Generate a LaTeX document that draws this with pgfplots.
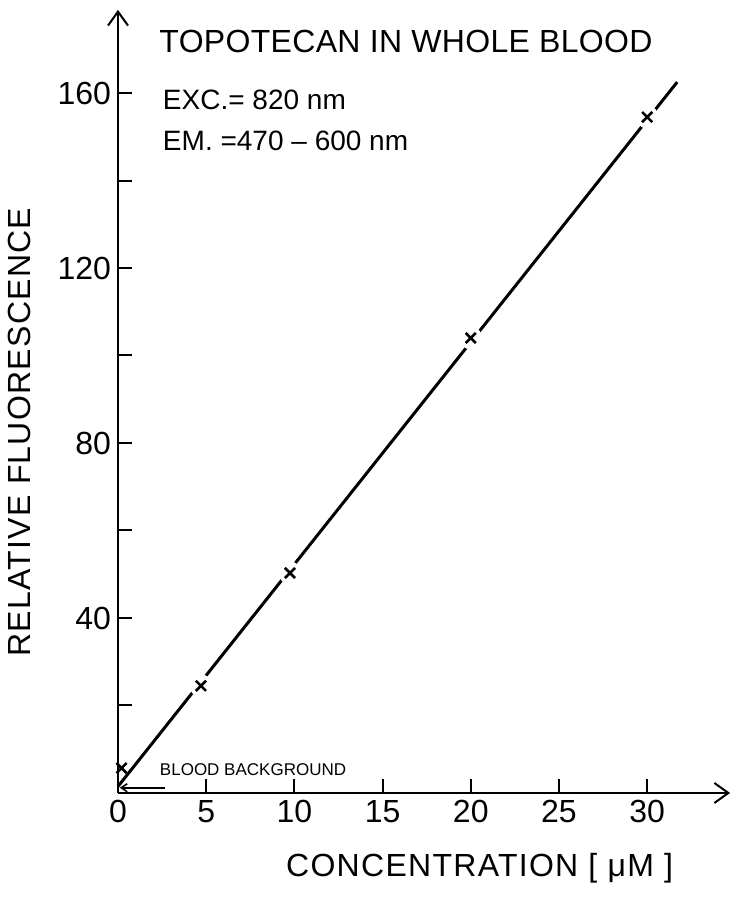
\documentclass[border=0pt]{standalone}
\usepackage{fontspec}
\setmainfont{Liberation Sans}
\usepackage{pgfplots}
\pgfplotsset{compat=1.18}
\usetikzlibrary{arrows.meta}
\begin{document}
\begin{tikzpicture}
\begin{axis}[
    scale only axis,
    width=306pt, height=391.5pt,
    xmin=0, xmax=34.7, ymin=0, ymax=179,
    axis lines=left,
    axis line style={line width=1.4pt, -{Straight Barb[length=7pt,width=10pt,line width=1pt]}},
    xtick={0,5,...,30},
    ytick={40,80,120,160},
    minor ytick={20,60,100,140},
    tick align=inside,
    major tick length=7pt, minor tick length=7pt,
    every tick/.style={black, line width=1pt},
    /pgf/number format/assume math mode=true,
    tick label style={font=\fontsize{16}{18}\selectfont},
    clip=false,
    axis on top,
]
% invisible frame sets the page to the reference's proportions
\path (axis cs:-6.69,-24.46) rectangle (axis cs:35.62,181.26);

% fitted line
\addplot[black, line width=1.5pt] coordinates {(0,1.5) (31.7,162.5)};
% white gaps round the measured points (not the one on the axis)
\addplot[only marks, mark=*, mark size=5.5pt, white, mark options={draw=white, fill=white}] coordinates {
    (4.7,24.5) (9.75,50.3) (20,104) (30,154.5)};
\addplot[only marks, mark=x, mark size=3.6pt, line width=1.3pt, black] coordinates {
    (0.2,5.7) (4.7,24.5) (9.75,50.3) (20,104) (30,154.5)};

\node[anchor=west, font=\fontsize{16}{18}\selectfont\addfontfeatures{LetterSpace=1}] at (axis cs:1.95,171.7) {TOPOTECAN IN WHOLE BLOOD};
\node[anchor=west, font=\fontsize{14}{16}\selectfont] at (axis cs:2.15,158.4) {EXC.= 820 nm};
\node[anchor=west, font=\fontsize{14}{16}\selectfont] at (axis cs:2.15,149) {EM. =470 -- 600 nm};
\node[anchor=west, font=\fontsize{8.5}{10}\selectfont] at (axis cs:1.98,5.3) {BLOOD BACKGROUND};
\draw[line width=0.8pt, -{Straight Barb[length=3pt,width=4pt]}] (axis cs:2.67,1.2) -- (axis cs:0.1,1.2);
\node[font=\fontsize{16}{18}\selectfont\addfontfeatures{LetterSpace=4}] at (axis cs:20.5,-17.1) {CONCENTRATION [ μM ]};
\node[font=\fontsize{16}{18}\selectfont\addfontfeatures{LetterSpace=4}, rotate=90] at (axis cs:-5.56,82.5) {RELATIVE FLUORESCENCE};
\end{axis}
\end{tikzpicture}
\end{document}
